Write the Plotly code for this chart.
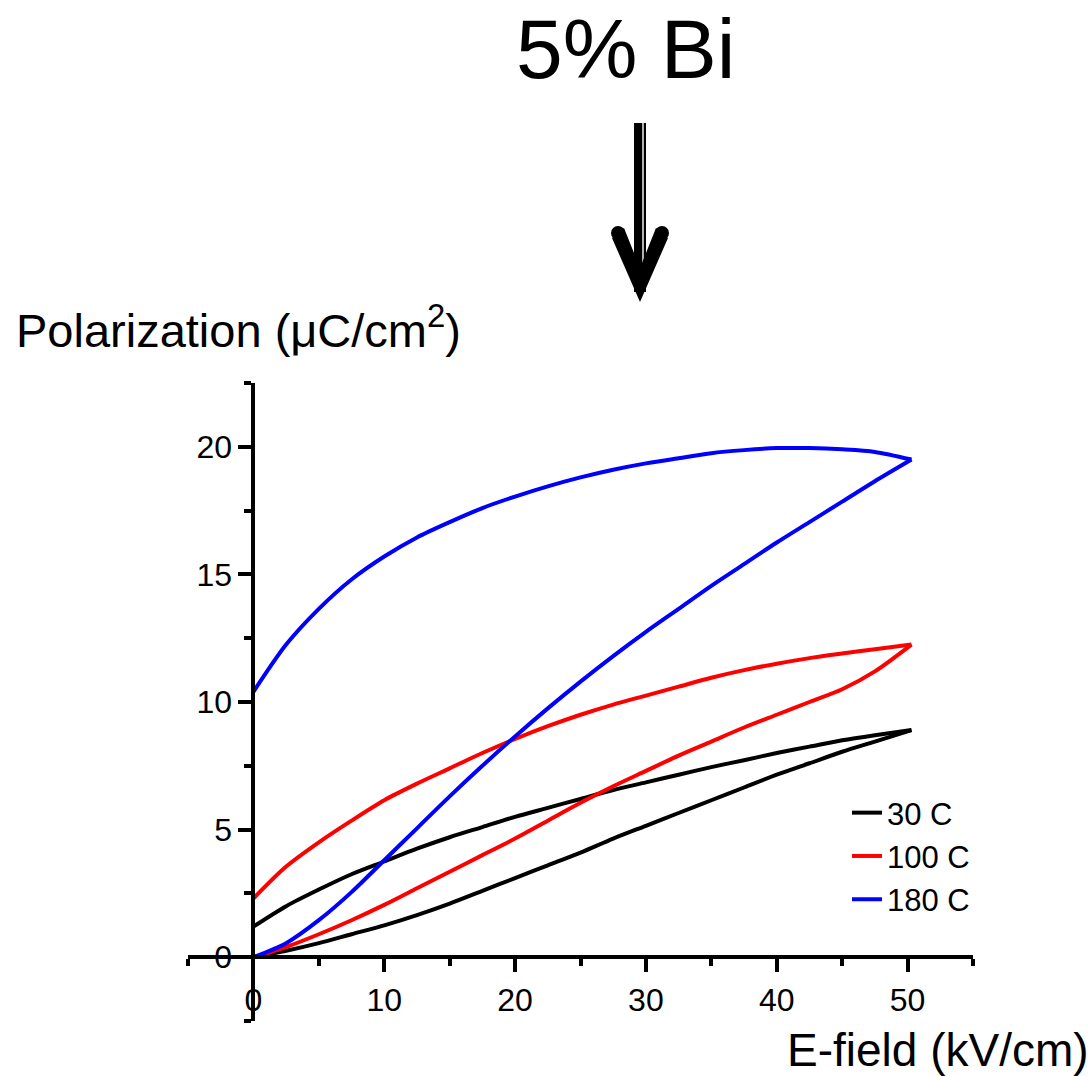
import plotly.graph_objects as go

# ---- data ----
e_field = [0, 2.5, 5, 7.5, 10, 12.5, 15, 17.5, 20, 22.5, 25, 27.5, 30,
           32.5, 35, 37.5, 40, 42.5, 45, 47.5, 50.3]

p30_rise = [0, 0.25, 0.55, 0.9, 1.25, 1.65, 2.1, 2.6, 3.1, 3.6, 4.1, 4.65, 5.15,
            5.65, 6.15, 6.65, 7.15, 7.6, 8.05, 8.45, 8.9]
p30_fall = [1.2, 2.0, 2.65, 3.25, 3.75, 4.25, 4.7, 5.1, 5.5, 5.85, 6.2, 6.55, 6.85,
            7.15, 7.45, 7.72, 8.0, 8.25, 8.5, 8.7, 8.9]

p100_rise = [0, 0.4, 0.9, 1.45, 2.05, 2.7, 3.35, 4.0, 4.65, 5.35, 6.05, 6.7, 7.3,
             7.9, 8.45, 9.0, 9.5, 10.0, 10.5, 11.2, 12.25]
p100_fall = [2.3, 3.55, 4.5, 5.35, 6.15, 6.8, 7.4, 8.0, 8.55, 9.05, 9.5, 9.9, 10.25,
             10.6, 10.95, 11.25, 11.5, 11.72, 11.9, 12.07, 12.25]

p180_rise = [0, 0.55, 1.45, 2.55, 3.8, 5.05, 6.3, 7.5, 8.65, 9.75, 10.8, 11.8, 12.75,
             13.65, 14.55, 15.4, 16.25, 17.05, 17.85, 18.65, 19.5]
p180_fall = [10.4, 12.25, 13.65, 14.8, 15.7, 16.45, 17.05, 17.6, 18.05, 18.45, 18.8, 19.1, 19.35,
             19.55, 19.75, 19.87, 19.95, 19.95, 19.9, 19.8, 19.5]

series_names = ["30 C", "100 C", "180 C"]
series_colors = ["#000000", "#ff0000", "#0000ff"]

x_ticks = [0, 10, 20, 30, 40, 50]
y_ticks = [0, 5, 10, 15, 20]

# ---- layout geometry ----
W, H = 1088, 1076
ML, MR, MT, MB = 188, 115, 383, 55
PW, PH = W - ML - MR, H - MT - MB


def px_x(px):
    return (px - ML) / PW


def px_y(py):
    return (H - MB - py) / PH


FONT = "Arial, Liberation Sans, sans-serif"

fig = go.Figure()
rises = [p30_rise, p100_rise, p180_rise]
falls = [p30_fall, p100_fall, p180_fall]
for name, color, rise, fall in zip(series_names, series_colors, rises, falls):
    fig.add_trace(go.Scatter(x=e_field, y=rise, mode="lines", name=name,
                             legendgroup=name, showlegend=True,
                             line=dict(color=color, width=4, shape="spline", smoothing=0.8)))
    fig.add_trace(go.Scatter(x=e_field, y=fall, mode="lines", name=name,
                             legendgroup=name, showlegend=False,
                             line=dict(color=color, width=4, shape="spline", smoothing=0.8)))

axis_common = dict(showgrid=False, zeroline=False, showline=True, linewidth=4,
                   linecolor="black", ticks="outside", ticklen=13, tickwidth=4,
                   tickcolor="black", tickfont=dict(family=FONT, size=32, color="black"),
                   anchor="free")

fig.update_layout(
    width=W, height=H,
    margin=dict(l=ML, r=MR, t=MT, b=MB, autoexpand=False),
    paper_bgcolor="white", plot_bgcolor="white",
    xaxis=dict(range=[-5, 55], tickvals=x_ticks, ticktext=[str(v) for v in x_ticks],
               position=0.1,
               minor=dict(dtick=5, tick0=0, ticklen=7, tickwidth=4, tickcolor="black", ticks="outside"),
               **axis_common),
    yaxis=dict(range=[-2.5, 22.5], tickvals=y_ticks, ticktext=[str(v) for v in y_ticks],
               position=5 / 60,
               minor=dict(dtick=2.5, tick0=0, ticklen=7, tickwidth=4, tickcolor="black", ticks="outside"),
               **axis_common),
    legend=dict(x=px_x(847), y=px_y(786), xanchor="left", yanchor="top",
                bgcolor="rgba(0,0,0,0)", font=dict(family=FONT, size=31, color="black"),
                tracegroupgap=0),
    showlegend=True,
)

annotations = [
    dict(text="5% Bi", x=px_x(625), y=px_y(0), xref="paper", yref="paper",
         xanchor="center", yanchor="top", showarrow=False,
         font=dict(family=FONT, size=84, color="black")),
    dict(text="Polarization (μC/cm<sup>2</sup>)", x=px_x(14), y=px_y(327),
         xref="paper", yref="paper", xanchor="left", yanchor="middle", showarrow=False,
         font=dict(family=FONT, size=47, color="black")),
    dict(text="E-field (kV/cm)", x=px_x(785), y=px_y(1050),
         xref="paper", yref="paper", xanchor="left", yanchor="middle", showarrow=False,
         font=dict(family=FONT, size=46, color="black")),
]
fig.update_layout(annotations=annotations)

# ---- down arrow (decoration) ----
shapes = [
    dict(type="rect", xref="paper", yref="paper", x0=px_x(634), x1=px_x(646),
         y0=px_y(123), y1=px_y(292), fillcolor="black", line=dict(width=0)),
    dict(type="rect", xref="paper", yref="paper", x0=px_x(642.3), x1=px_x(643.7),
         y0=px_y(123), y1=px_y(266), fillcolor="white", line=dict(width=0)),
]
head_pts = [(612, 238), (624, 228), (640, 268), (656, 228), (668, 238), (640, 302)]
path = "M " + " L ".join(f"{px_x(a):.5f},{px_y(b):.5f}" for a, b in head_pts) + " Z"
shapes.append(dict(type="path", xref="paper", yref="paper", path=path,
                   fillcolor="black", line=dict(width=0)))
for cx, cy in [(618, 233), (662, 233)]:
    r = 7
    shapes.append(dict(type="circle", xref="paper", yref="paper",
                       x0=px_x(cx - r), x1=px_x(cx + r), y0=px_y(cy - r), y1=px_y(cy + r),
                       fillcolor="black", line=dict(width=0)))
fig.update_layout(shapes=shapes)

fig.write_html("out.html")
